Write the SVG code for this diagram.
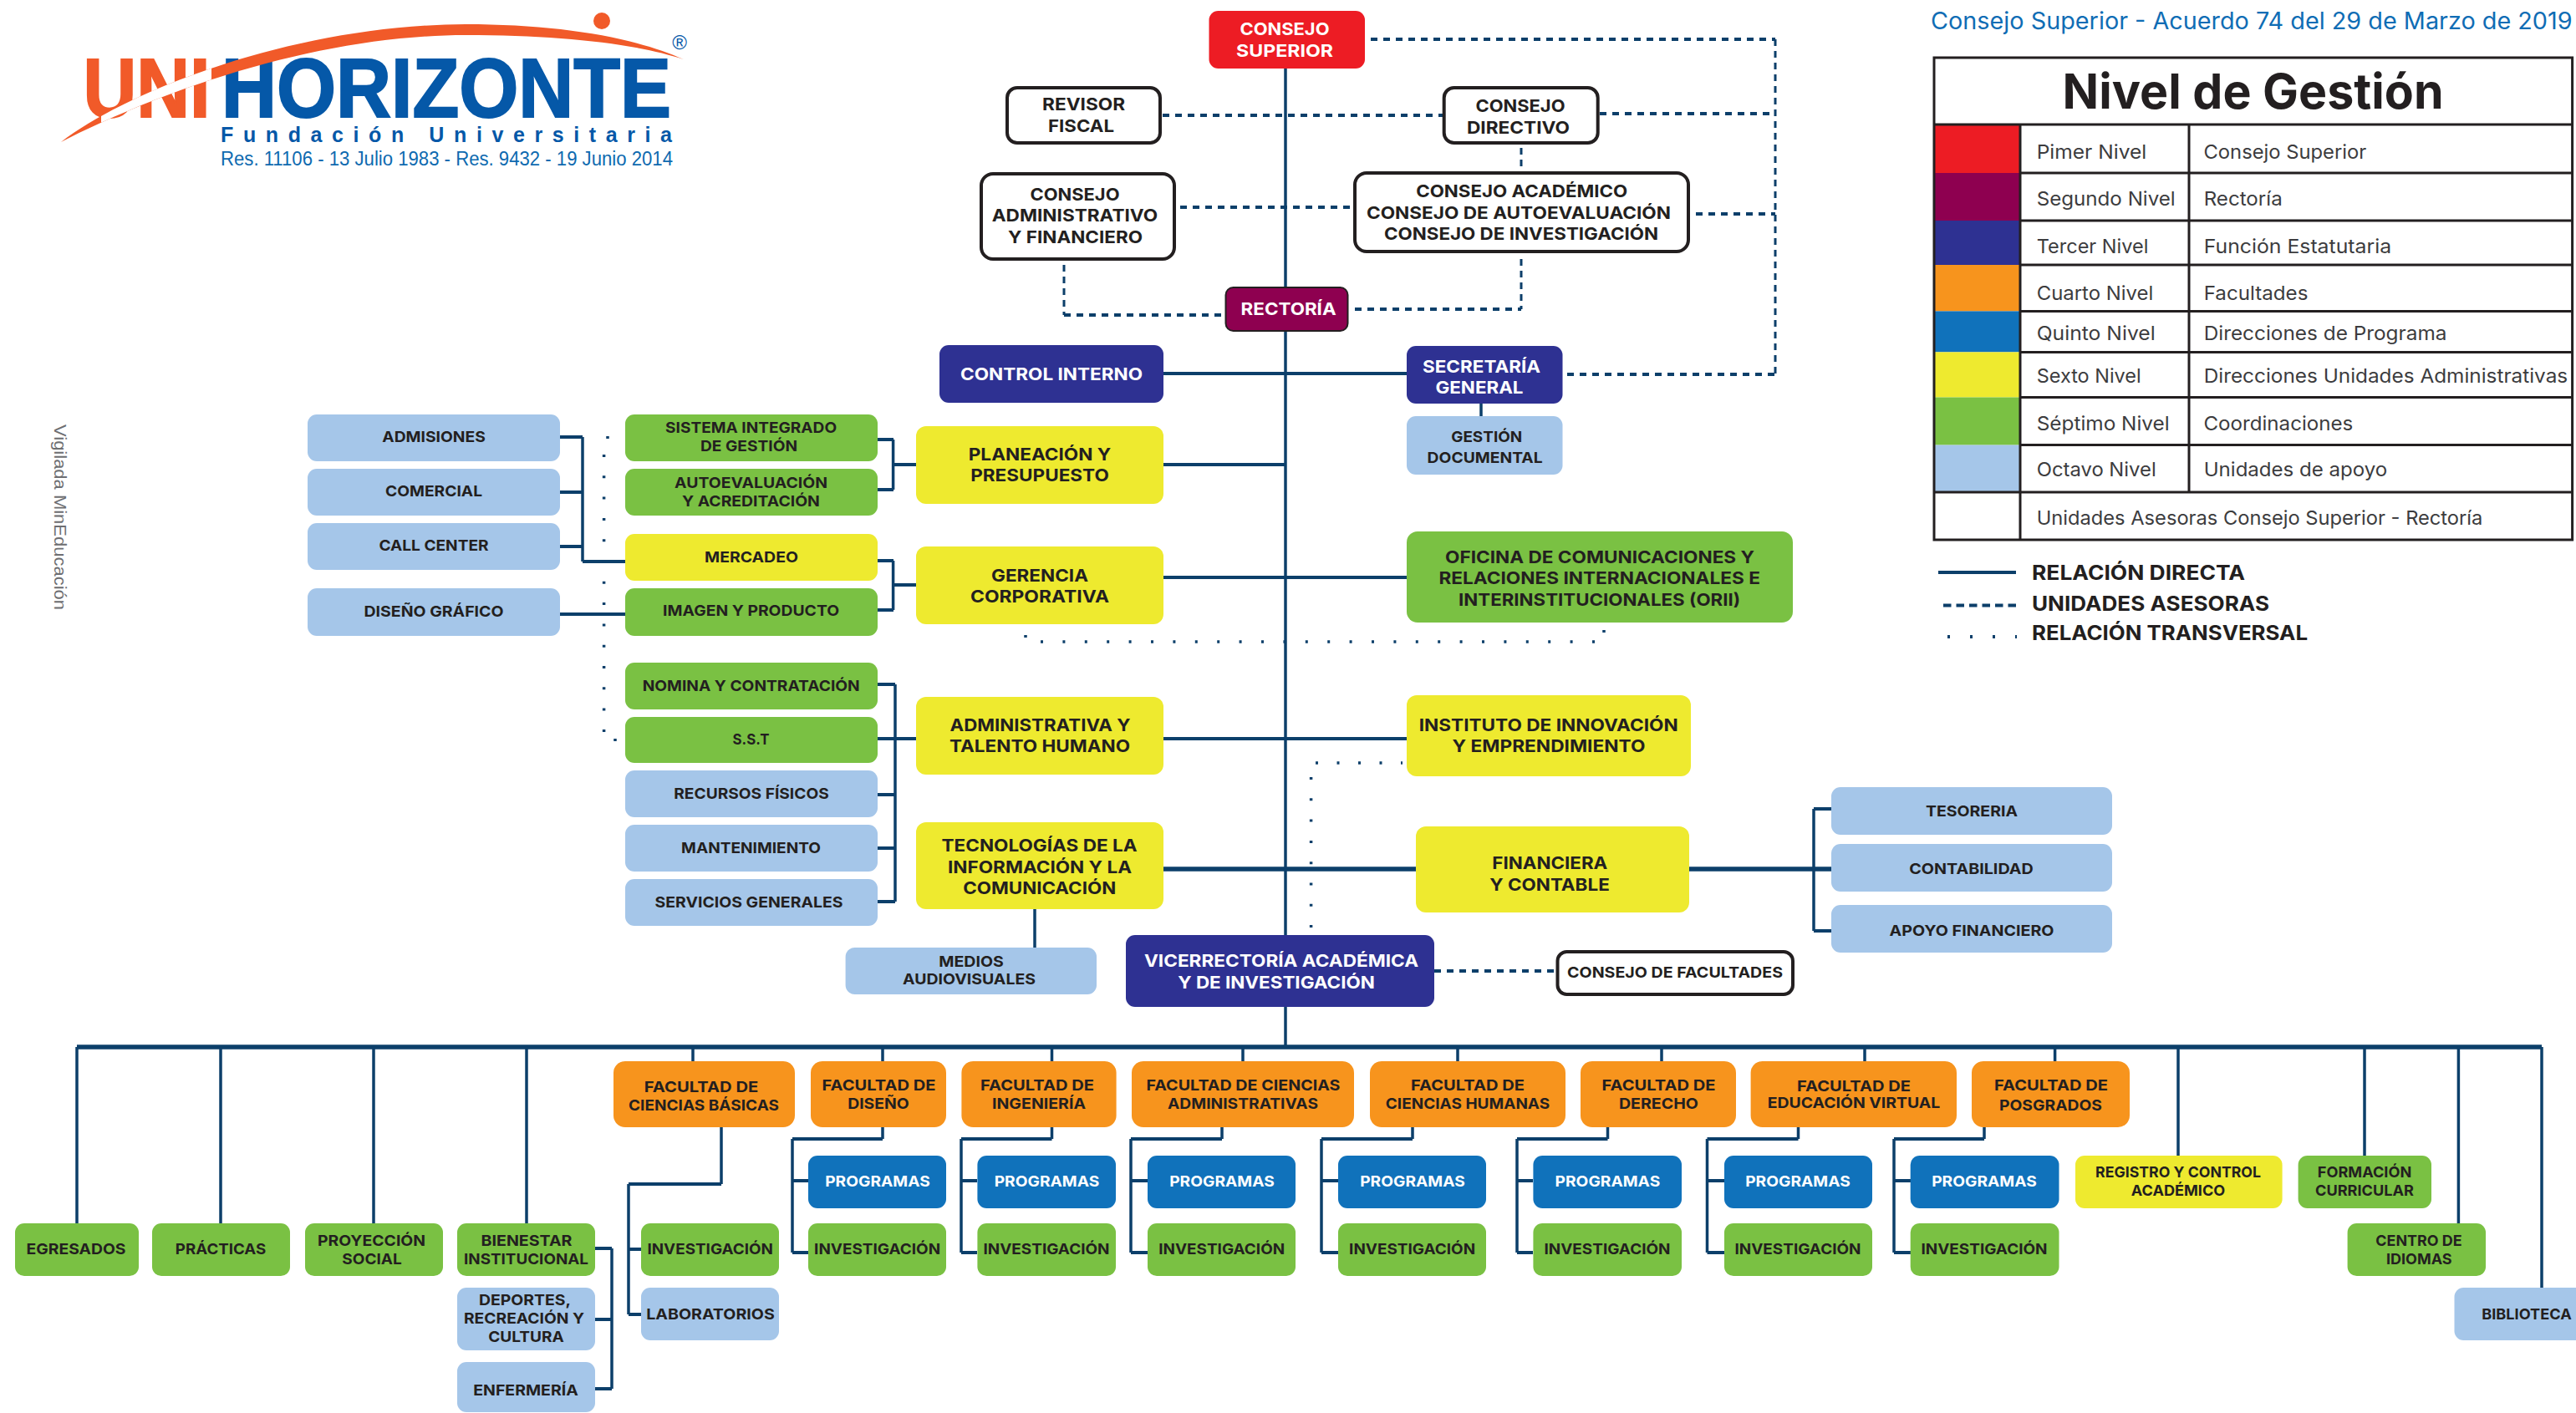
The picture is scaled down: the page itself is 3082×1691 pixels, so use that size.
<svg xmlns="http://www.w3.org/2000/svg" width="3082" height="1691" viewBox="0 0 3082 1691">
<style>
text{font-family:"Inter","Open Sans","Liberation Sans",sans-serif;text-anchor:middle;fill:#231f20}
.m{font-size:20.5px;font-weight:700}
.s{font-size:18px;font-weight:700}
.w{fill:#fff}
.n rect{stroke:none}
.red{fill:#ed1c24}.mar{fill:#8e0050}.ind{fill:#2e3192}.ora{fill:#f7941d}.blu{fill:#1072bb}.yel{fill:#eeea2f}.gre{fill:#7ac143}.lig{fill:#a5c6e9}
.wb{fill:#fff;stroke:#231f20!important;stroke-width:4}
.mb{stroke:#231f20!important;stroke-width:2}
.c{fill:none;stroke:#0c3f6a;stroke-width:4}
.t{stroke-width:3.5}
.b{stroke-width:5.5}
.d{stroke-dasharray:8 7}
.v{stroke-dasharray:8 6;stroke-width:3}
.p{stroke-dasharray:3 23.4;stroke-width:3.5}
.pv{stroke-dasharray:3 22.3;stroke-width:3.5}
.lg text{text-anchor:start;font-size:23px;font-weight:400;fill:#3c3c3e}
.lg .h{text-anchor:start;font-size:24.5px;font-weight:700;fill:#231f20}
.lg .ti{text-anchor:middle;font-size:58px;font-weight:700;fill:#231f20}
.grid{fill:none;stroke:#231f20;stroke-width:3}
.logo text{font-family:"Liberation Sans",sans-serif}
</style>
<defs><clipPath id="cutUni"><rect x="121" y="60" width="132" height="90"/></clipPath></defs>
<rect width="3082" height="1691" fill="#fff"/>

<g id="logo" class="logo">
<text x="175.500" y="140" style="font-size:100px;font-weight:700;fill:#f15a29;stroke:#f15a29;stroke-width:2" textLength="152" lengthAdjust="spacingAndGlyphs">UNI</text>
<text x="534" y="140" style="font-size:100px;font-weight:700;fill:#0558a8;stroke:#0558a8;stroke-width:2" textLength="538" lengthAdjust="spacingAndGlyphs">HORIZONTE</text>
<path d="M73 170C150 110 350 30 557 29C670 29 760 45 818 71C760 52 670 42 557 42C400 42 220 95 73 170Z" fill="#f15a29"/>
<path d="M73 170C150 110 350 30 557 29C670 29 760 45 818 71C760 52 670 42 557 42C400 42 220 95 73 170Z" fill="#fff" clip-path="url(#cutUni)"/>
<ellipse cx="720" cy="25" rx="10" ry="10" fill="#f15a29"/>
<text x="813" y="59" style="font-size:24px;fill:#0558a8">®</text>
<text x="534" y="170" style="font-size:25px;font-weight:700;fill:#0558a8" textLength="540" lengthAdjust="spacing">Fundación Universitaria</text>
<text x="534.500" y="198" style="font-size:23px;fill:#0e6ab0" textLength="541" lengthAdjust="spacingAndGlyphs">Res. 11106 - 13 Julio 1983 - Res. 9432 - 19 Junio 2014</text>
</g>

<g id="vigilada" class="logo">
<text transform="translate(65 508) rotate(90)" style="font-size:21px;fill:#6d6e71;text-anchor:start" textLength="222" lengthAdjust="spacingAndGlyphs">Vigilada MinEducación</text>
</g>

<g id="connectors">
<path class="c t" d="M1538 82V1253"/>
<path class="c b" d="M92 1253H3041"/>
<path class="c d" d="M1640 47H2124"/>
<path class="c v" d="M2124 47V448"/>
<path class="c d" d="M1875 448H2124"/>
<path class="c d" d="M1391 138H1726"/>
<path class="c d" d="M1914 136H2124"/>
<path class="c v" d="M1820 177V205"/>
<path class="c d" d="M1412 248H1619"/>
<path class="c d" d="M2029 256H2124"/>
<path class="c v" d="M1273 317V377"/>
<path class="c d" d="M1273 377H1465"/>
<path class="c v" d="M1820 310V370"/>
<path class="c d" d="M1621 370H1820"/>
<path class="c d" d="M1716 1162H1861"/>
<path class="c" d="M1392 447H1683"/>
<path class="c t" d="M1772 483V498"/>
<path class="c" d="M1392 556H1538"/>
<path class="c" d="M1392 691H1683"/>
<path class="c" d="M1392 884H1683"/>
<path class="c b" d="M1392 1040H1694"/>
<path class="c b" d="M2021 1040H2191"/>
<path class="c t" d="M2170 968V1114"/>
<path class="c" d="M2170 968H2191M2170 1114H2191"/>
<path class="c t" d="M1238 1088V1134"/>
<path class="c t" d="M1071 819V1079"/>
<path class="c" d="M1050 819H1071M1050 884H1096M1050 951H1071M1050 1015H1071M1050 1079H1071"/>
<path class="c t" d="M697 523V672"/>
<path class="c" d="M670 523H697M670 589H697M670 654H697M697 672H748M670 735H748"/>
<path class="c t" d="M1068.600 526V586M1068.600 671V730"/>
<path class="c" d="M1050 526H1069M1050 586H1069M1069 556H1096M1050 671H1069M1050 730H1069M1069 700H1096"/>
<path class="c t" d="M92 1253V1464M264 1253V1464M447 1253V1464M630 1253V1464"/>
<path class="c t" d="M829 1253V1270M1056 1253V1270M1258.500 1253V1270M1487 1253V1270M1744 1253V1270M1988 1253V1270M2231 1253V1270M2458.600 1253V1270"/>
<path class="c t" d="M2606 1253V1383M2829 1253V1383M2941.400 1253V1464M3041 1253V1541"/>
<path class="c t" d="M732 1494V1662"/>
<path class="c" d="M712 1494H732M712 1579H732M712 1662H732"/>
<path class="c t" d="M863 1349V1417M752 1417V1573"/>
<path class="c" d="M863 1417H752M752 1495H767M752 1573H767"/>
<path class="c t" d="M1056 1349V1363M948 1363V1499"/><path class="c" d="M1056 1363H948M948 1413H967M948 1499H967"/>
<path class="c t" d="M1258.500 1349V1363M1150 1363V1499"/><path class="c" d="M1258.500 1363H1150M1150 1413H1169M1150 1499H1169"/>
<path class="c t" d="M1462 1349V1363M1353 1363V1499"/><path class="c" d="M1462 1363H1353M1353 1413H1373M1353 1499H1373"/>
<path class="c t" d="M1690 1349V1363M1581 1363V1499"/><path class="c" d="M1690 1363H1581M1581 1413H1601M1581 1499H1601"/>
<path class="c t" d="M1923.500 1349V1363M1815 1363V1499"/><path class="c" d="M1923.500 1363H1815M1815 1413H1834M1815 1499H1834"/>
<path class="c t" d="M2151.500 1349V1363M2042.500 1363V1499"/><path class="c" d="M2151.500 1363H2042.500M2042.500 1413H2063M2042.500 1499H2063"/>
<path class="c t" d="M2374 1349V1363M2266 1363V1499"/><path class="c" d="M2374 1363H2266M2266 1413H2286M2266 1499H2286"/>
<path class="c pv" d="M722.600 544V878"/>
<path class="c pv" d="M727 522V525M736 884V888"/>
<path class="c p" d="M1245 768H1910"/>
<path class="c pv" d="M1227 760V764M1919 754V758"/>
<path class="c p" d="M1574 913H1678" style="stroke-dasharray:3 22.500"/>
<path class="c pv" d="M1568.600 930V1112"/>
</g>

<g id="consejo-superior" class="n"><rect class="red" x="1446.500" y="13" width="186.500" height="69" rx="11"/><text class="m w" x="1537" y="41.700" textLength="107" lengthAdjust="spacingAndGlyphs">CONSEJO</text><text class="m w" x="1537" y="68" textLength="116" lengthAdjust="spacingAndGlyphs">SUPERIOR</text></g>
<g id="revisor-fiscal" class="n"><rect class="wb" x="1205" y="105" width="183" height="66" rx="12"/><text class="m" x="1296.600" y="132" textLength="99" lengthAdjust="spacingAndGlyphs">REVISOR</text><text class="m" x="1293.500" y="157.700" textLength="79" lengthAdjust="spacingAndGlyphs">FISCAL</text></g>
<g id="consejo-directivo" class="n"><rect class="wb" x="1727.700" y="105" width="184" height="66" rx="12"/><text class="m" x="1819" y="134" textLength="107" lengthAdjust="spacingAndGlyphs">CONSEJO</text><text class="m" x="1816.500" y="159.700" textLength="123" lengthAdjust="spacingAndGlyphs">DIRECTIVO</text></g>
<g id="consejo-administrativo" class="n"><rect class="wb" x="1174" y="208" width="231" height="102" rx="14"/><text class="m" x="1286" y="239.700" textLength="107" lengthAdjust="spacingAndGlyphs">CONSEJO</text><text class="m" x="1286" y="265" textLength="198.500" lengthAdjust="spacingAndGlyphs">ADMINISTRATIVO</text><text class="m" x="1286.500" y="291" textLength="161" lengthAdjust="spacingAndGlyphs">Y FINANCIERO</text></g>
<g id="consejo-academico" class="n"><rect class="wb" x="1621" y="207" width="399" height="94" rx="14"/><text class="m" x="1820.700" y="236" textLength="253" lengthAdjust="spacingAndGlyphs">CONSEJO ACADÉMICO</text><text class="m" x="1817" y="261.700" textLength="364" lengthAdjust="spacingAndGlyphs">CONSEJO DE AUTOEVALUACIÓN</text><text class="m" x="1820" y="286.700" textLength="328" lengthAdjust="spacingAndGlyphs">CONSEJO DE INVESTIGACIÓN</text></g>
<g id="rectoria" class="n"><rect class="mar mb" x="1466.500" y="344" width="146" height="52" rx="9"/><text class="m w" x="1541.600" y="377" textLength="114" lengthAdjust="spacingAndGlyphs">RECTORÍA</text></g>
<g id="control-interno" class="n"><rect class="ind" x="1124" y="413" width="268" height="69" rx="11"/><text class="m w" x="1258" y="455" textLength="218" lengthAdjust="spacingAndGlyphs">CONTROL INTERNO</text></g>
<g id="secretaria-general" class="n"><rect class="ind" x="1683" y="414" width="186.500" height="69" rx="11"/><text class="m w" x="1772.500" y="446" textLength="141" lengthAdjust="spacingAndGlyphs">SECRETARÍA</text><text class="m w" x="1770" y="470.700" textLength="105" lengthAdjust="spacingAndGlyphs">GENERAL</text></g>
<g id="gestion-documental" class="n"><rect class="lig" x="1683" y="498" width="186.500" height="70" rx="11"/><text class="s" x="1778.700" y="529" textLength="85" lengthAdjust="spacingAndGlyphs">GESTIÓN</text><text class="s" x="1776.600" y="554" textLength="138" lengthAdjust="spacingAndGlyphs">DOCUMENTAL</text></g>

<g id="admisiones" class="n"><rect class="lig" x="368" y="496" width="302" height="56" rx="11"/><text class="s" x="519" y="529.300" textLength="123.500" lengthAdjust="spacingAndGlyphs">ADMISIONES</text></g>
<g id="comercial" class="n"><rect class="lig" x="368" y="561" width="302" height="56" rx="11"/><text class="s" x="519" y="594.300" textLength="116" lengthAdjust="spacingAndGlyphs">COMERCIAL</text></g>
<g id="call-center" class="n"><rect class="lig" x="368" y="626" width="302" height="56" rx="11"/><text class="s" x="519" y="659" textLength="131" lengthAdjust="spacingAndGlyphs">CALL CENTER</text></g>
<g id="diseno-grafico" class="n"><rect class="lig" x="368" y="704" width="302" height="57" rx="11"/><text class="s" x="519" y="738" textLength="167" lengthAdjust="spacingAndGlyphs">DISEÑO GRÁFICO</text></g>
<g id="sistema-integrado" class="n"><rect class="gre" x="748" y="496" width="302" height="56" rx="11"/><text class="s" x="898.600" y="518.300" textLength="205" lengthAdjust="spacingAndGlyphs">SISTEMA INTEGRADO</text><text class="s" x="896" y="540" textLength="116" lengthAdjust="spacingAndGlyphs">DE GESTIÓN</text></g>
<g id="autoevaluacion" class="n"><rect class="gre" x="748" y="561" width="302" height="56" rx="11"/><text class="s" x="898.600" y="584.300" textLength="183" lengthAdjust="spacingAndGlyphs">AUTOEVALUACIÓN</text><text class="s" x="898.400" y="606" textLength="165" lengthAdjust="spacingAndGlyphs">Y ACREDITACIÓN</text></g>
<g id="mercadeo" class="n"><rect class="yel" x="748" y="639" width="302" height="56" rx="11"/><text class="s" x="899" y="673" textLength="112" lengthAdjust="spacingAndGlyphs">MERCADEO</text></g>
<g id="imagen-producto" class="n"><rect class="gre" x="748" y="704" width="302" height="57" rx="11"/><text class="s" x="898.600" y="737" textLength="211" lengthAdjust="spacingAndGlyphs">IMAGEN Y PRODUCTO</text></g>
<g id="nomina" class="n"><rect class="gre" x="748" y="793" width="302" height="56" rx="11"/><text class="s" x="898.700" y="827.300" textLength="260" lengthAdjust="spacingAndGlyphs">NOMINA Y CONTRATACIÓN</text></g>
<g id="sst" class="n"><rect class="gre" x="748" y="858" width="302" height="55" rx="11"/><text class="s" x="898.600" y="891" textLength="44" lengthAdjust="spacingAndGlyphs">S.S.T</text></g>
<g id="recursos-fisicos" class="n"><rect class="lig" x="748" y="922" width="302" height="56" rx="11"/><text class="s" x="899" y="956" textLength="185.500" lengthAdjust="spacingAndGlyphs">RECURSOS FÍSICOS</text></g>
<g id="mantenimiento" class="n"><rect class="lig" x="748" y="987" width="302" height="56" rx="11"/><text class="s" x="898.600" y="1021" textLength="167" lengthAdjust="spacingAndGlyphs">MANTENIMIENTO</text></g>
<g id="servicios-generales" class="n"><rect class="lig" x="748" y="1052" width="302" height="56" rx="11"/><text class="s" x="896" y="1086" textLength="225" lengthAdjust="spacingAndGlyphs">SERVICIOS GENERALES</text></g>

<g id="planeacion" class="n"><rect class="yel" x="1096" y="510" width="296" height="93" rx="12"/><text class="m" x="1244" y="551" textLength="170.500" lengthAdjust="spacingAndGlyphs">PLANEACIÓN Y</text><text class="m" x="1244" y="576" textLength="165.600" lengthAdjust="spacingAndGlyphs">PRESUPUESTO</text></g>
<g id="gerencia" class="n"><rect class="yel" x="1096" y="654" width="296" height="93" rx="12"/><text class="m" x="1244" y="695.700" textLength="116" lengthAdjust="spacingAndGlyphs">GERENCIA</text><text class="m" x="1244" y="720.700" textLength="166" lengthAdjust="spacingAndGlyphs">CORPORATIVA</text></g>
<g id="administrativa" class="n"><rect class="yel" x="1096" y="834" width="296" height="93" rx="12"/><text class="m" x="1244.500" y="875" textLength="216" lengthAdjust="spacingAndGlyphs">ADMINISTRATIVA Y</text><text class="m" x="1244" y="900" textLength="216" lengthAdjust="spacingAndGlyphs">TALENTO HUMANO</text></g>
<g id="tecnologias" class="n"><rect class="yel" x="1096" y="984" width="296" height="104" rx="12"/><text class="m" x="1243.500" y="1019" textLength="234" lengthAdjust="spacingAndGlyphs">TECNOLOGÍAS DE LA</text><text class="m" x="1244" y="1045" textLength="220" lengthAdjust="spacingAndGlyphs">INFORMACIÓN Y LA</text><text class="m" x="1243.700" y="1070" textLength="183" lengthAdjust="spacingAndGlyphs">COMUNICACIÓN</text></g>
<g id="medios" class="n"><rect class="lig" x="1011.600" y="1134" width="300.400" height="56" rx="11"/><text class="s" x="1162" y="1157" textLength="77.500" lengthAdjust="spacingAndGlyphs">MEDIOS</text><text class="s" x="1159.500" y="1178.300" textLength="159" lengthAdjust="spacingAndGlyphs">AUDIOVISUALES</text></g>
<g id="oficina" class="n"><rect class="gre" x="1683" y="636" width="462" height="109" rx="13"/><text class="m" x="1914" y="673.700" textLength="370" lengthAdjust="spacingAndGlyphs">OFICINA DE COMUNICACIONES Y</text><text class="m" x="1913.700" y="698.700" textLength="384.500" lengthAdjust="spacingAndGlyphs">RELACIONES INTERNACIONALES E</text><text class="m" x="1913.600" y="725" textLength="337" lengthAdjust="spacingAndGlyphs">INTERINSTITUCIONALES (ORII)</text></g>
<g id="instituto" class="n"><rect class="yel" x="1683" y="832" width="340" height="97" rx="12"/><text class="m" x="1852.700" y="875" textLength="310" lengthAdjust="spacingAndGlyphs">INSTITUTO DE INNOVACIÓN</text><text class="m" x="1853" y="900" textLength="231" lengthAdjust="spacingAndGlyphs">Y EMPRENDIMIENTO</text></g>
<g id="financiera" class="n"><rect class="yel" x="1694" y="989" width="327" height="103" rx="12"/><text class="m" x="1854.300" y="1040" textLength="138" lengthAdjust="spacingAndGlyphs">FINANCIERA</text><text class="m" x="1854" y="1065.700" textLength="143.500" lengthAdjust="spacingAndGlyphs">Y CONTABLE</text></g>
<g id="tesoreria" class="n"><rect class="lig" x="2191" y="942" width="336" height="57" rx="11"/><text class="s" x="2359" y="977" textLength="110" lengthAdjust="spacingAndGlyphs">TESORERIA</text></g>
<g id="contabilidad" class="n"><rect class="lig" x="2191" y="1010" width="336" height="57" rx="11"/><text class="s" x="2358.500" y="1045.700" textLength="148.600" lengthAdjust="spacingAndGlyphs">CONTABILIDAD</text></g>
<g id="apoyo-financiero" class="n"><rect class="lig" x="2191" y="1083" width="336" height="57" rx="11"/><text class="s" x="2359" y="1120" textLength="197" lengthAdjust="spacingAndGlyphs">APOYO FINANCIERO</text></g>
<g id="vicerrectoria" class="n"><rect class="ind" x="1347" y="1119" width="369" height="86" rx="11"/><text class="m w" x="1533" y="1157" textLength="328" lengthAdjust="spacingAndGlyphs">VICERRECTORÍA ACADÉMICA</text><text class="m w" x="1527" y="1182.700" textLength="235.600" lengthAdjust="spacingAndGlyphs">Y DE INVESTIGACIÓN</text></g>
<g id="consejo-facultades" class="n"><rect class="wb" x="1863.500" y="1139" width="281.500" height="51" rx="11"/><text class="s" x="2004" y="1169.700" textLength="258" lengthAdjust="spacingAndGlyphs">CONSEJO DE FACULTADES</text></g>

<g id="egresados" class="n"><rect class="gre" x="18" y="1464" width="148" height="63" rx="11"/><text class="s" x="91" y="1501" textLength="119" lengthAdjust="spacingAndGlyphs">EGRESADOS</text></g>
<g id="practicas" class="n"><rect class="gre" x="182" y="1464" width="165" height="63" rx="11"/><text class="s" x="264" y="1501" textLength="108.400" lengthAdjust="spacingAndGlyphs">PRÁCTICAS</text></g>
<g id="proyeccion-social" class="n"><rect class="gre" x="365" y="1464" width="165" height="63" rx="11"/><text class="s" x="444.500" y="1490.700" textLength="129" lengthAdjust="spacingAndGlyphs">PROYECCIÓN</text><text class="s" x="445" y="1512.700" textLength="71.400" lengthAdjust="spacingAndGlyphs">SOCIAL</text></g>
<g id="bienestar" class="n"><rect class="gre" x="547" y="1464" width="165" height="63" rx="11"/><text class="s" x="630" y="1490.700" textLength="109" lengthAdjust="spacingAndGlyphs">BIENESTAR</text><text class="s" x="629.500" y="1512.700" textLength="149" lengthAdjust="spacingAndGlyphs">INSTITUCIONAL</text></g>
<g id="deportes" class="n"><rect class="lig" x="547" y="1541" width="165" height="75" rx="11"/><text class="s" x="628" y="1562.300" textLength="110" lengthAdjust="spacingAndGlyphs">DEPORTES,</text><text class="s" x="627" y="1584" textLength="144" lengthAdjust="spacingAndGlyphs">RECREACIÓN Y</text><text class="s" x="629.500" y="1605.700" textLength="90.600" lengthAdjust="spacingAndGlyphs">CULTURA</text></g>
<g id="enfermeria" class="n"><rect class="lig" x="547" y="1630" width="165" height="60" rx="11"/><text class="s" x="629" y="1670" textLength="125.600" lengthAdjust="spacingAndGlyphs">ENFERMERÍA</text></g>

<g id="fac-basicas" class="n"><rect class="ora" x="734" y="1270" width="217" height="79" rx="14"/><text class="s" x="839" y="1307.300" textLength="136.500" lengthAdjust="spacingAndGlyphs">FACULTAD DE</text><text class="s" x="842" y="1329" textLength="180" lengthAdjust="spacingAndGlyphs">CIENCIAS BÁSICAS</text></g>
<g id="fac-diseno" class="n"><rect class="ora" x="970" y="1270" width="162" height="79" rx="14"/><text class="s" x="1051.500" y="1305.300" textLength="136" lengthAdjust="spacingAndGlyphs">FACULTAD DE</text><text class="s" x="1051" y="1326.700" textLength="73.600" lengthAdjust="spacingAndGlyphs">DISEÑO</text></g>
<g id="fac-ingenieria" class="n"><rect class="ora" x="1150.400" y="1270" width="185.200" height="79" rx="14"/><text class="s" x="1241" y="1305.300" textLength="136" lengthAdjust="spacingAndGlyphs">FACULTAD DE</text><text class="s" x="1243" y="1326.700" textLength="112" lengthAdjust="spacingAndGlyphs">INGENIERÍA</text></g>
<g id="fac-administrativas" class="n"><rect class="ora" x="1354" y="1270" width="266" height="79" rx="14"/><text class="s" x="1487.500" y="1305.300" textLength="232" lengthAdjust="spacingAndGlyphs">FACULTAD DE CIENCIAS</text><text class="s" x="1487" y="1326.700" textLength="180" lengthAdjust="spacingAndGlyphs">ADMINISTRATIVAS</text></g>
<g id="fac-humanas" class="n"><rect class="ora" x="1639" y="1270" width="234" height="79" rx="14"/><text class="s" x="1756" y="1305.300" textLength="136" lengthAdjust="spacingAndGlyphs">FACULTAD DE</text><text class="s" x="1756" y="1326.700" textLength="196.400" lengthAdjust="spacingAndGlyphs">CIENCIAS HUMANAS</text></g>
<g id="fac-derecho" class="n"><rect class="ora" x="1891" y="1270" width="186" height="79" rx="14"/><text class="s" x="1984.500" y="1305.300" textLength="136" lengthAdjust="spacingAndGlyphs">FACULTAD DE</text><text class="s" x="1984.400" y="1326.700" textLength="95" lengthAdjust="spacingAndGlyphs">DERECHO</text></g>
<g id="fac-virtual" class="n"><rect class="ora" x="2094.600" y="1270" width="246.400" height="79" rx="14"/><text class="s" x="2218" y="1306" textLength="136" lengthAdjust="spacingAndGlyphs">FACULTAD DE</text><text class="s" x="2218" y="1326" textLength="206.600" lengthAdjust="spacingAndGlyphs">EDUCACIÓN VIRTUAL</text></g>
<g id="fac-posgrados" class="n"><rect class="ora" x="2359" y="1270" width="189" height="79" rx="14"/><text class="s" x="2454" y="1305.300" textLength="136" lengthAdjust="spacingAndGlyphs">FACULTAD DE</text><text class="s" x="2453.500" y="1329" textLength="123" lengthAdjust="spacingAndGlyphs">POSGRADOS</text></g>

<g id="prog-diseno" class="n"><rect class="blu" x="967" y="1383" width="165" height="63" rx="11"/><text class="s w" x="1050" y="1420" textLength="125.600" lengthAdjust="spacingAndGlyphs">PROGRAMAS</text></g>
<g id="prog-ingenieria" class="n"><rect class="blu" x="1169.400" y="1383" width="165.600" height="63" rx="11"/><text class="s w" x="1252.500" y="1420" textLength="125.600" lengthAdjust="spacingAndGlyphs">PROGRAMAS</text></g>
<g id="prog-administrativas" class="n"><rect class="blu" x="1373" y="1383" width="177" height="63" rx="11"/><text class="s w" x="1462" y="1420" textLength="125.600" lengthAdjust="spacingAndGlyphs">PROGRAMAS</text></g>
<g id="prog-humanas" class="n"><rect class="blu" x="1601" y="1383" width="177" height="63" rx="11"/><text class="s w" x="1690" y="1420" textLength="125.600" lengthAdjust="spacingAndGlyphs">PROGRAMAS</text></g>
<g id="prog-derecho" class="n"><rect class="blu" x="1834.400" y="1383" width="177.600" height="63" rx="11"/><text class="s w" x="1923.400" y="1420" textLength="125.600" lengthAdjust="spacingAndGlyphs">PROGRAMAS</text></g>
<g id="prog-virtual" class="n"><rect class="blu" x="2063" y="1383" width="177" height="63" rx="11"/><text class="s w" x="2151" y="1420" textLength="125.600" lengthAdjust="spacingAndGlyphs">PROGRAMAS</text></g>
<g id="prog-posgrados" class="n"><rect class="blu" x="2285.700" y="1383" width="177.800" height="63" rx="11"/><text class="s w" x="2374" y="1420" textLength="125.600" lengthAdjust="spacingAndGlyphs">PROGRAMAS</text></g>

<g id="inv-basicas" class="n"><rect class="gre" x="767" y="1464" width="165" height="63" rx="11"/><text class="s" x="849.700" y="1501" textLength="150.500" lengthAdjust="spacingAndGlyphs">INVESTIGACIÓN</text></g>
<g id="laboratorios" class="n"><rect class="lig" x="767" y="1541" width="165" height="63" rx="11"/><text class="s" x="850" y="1579" textLength="153.700" lengthAdjust="spacingAndGlyphs">LABORATORIOS</text></g>
<g id="inv-diseno" class="n"><rect class="gre" x="967" y="1464" width="165" height="63" rx="11"/><text class="s" x="1049.600" y="1501" textLength="151" lengthAdjust="spacingAndGlyphs">INVESTIGACIÓN</text></g>
<g id="inv-ingenieria" class="n"><rect class="gre" x="1169.400" y="1464" width="165.600" height="63" rx="11"/><text class="s" x="1252" y="1501" textLength="151" lengthAdjust="spacingAndGlyphs">INVESTIGACIÓN</text></g>
<g id="inv-administrativas" class="n"><rect class="gre" x="1373" y="1464" width="177" height="63" rx="11"/><text class="s" x="1461.700" y="1501" textLength="151" lengthAdjust="spacingAndGlyphs">INVESTIGACIÓN</text></g>
<g id="inv-humanas" class="n"><rect class="gre" x="1601" y="1464" width="177" height="63" rx="11"/><text class="s" x="1689.600" y="1501" textLength="151" lengthAdjust="spacingAndGlyphs">INVESTIGACIÓN</text></g>
<g id="inv-derecho" class="n"><rect class="gre" x="1834.400" y="1464" width="177.600" height="63" rx="11"/><text class="s" x="1923" y="1501" textLength="151" lengthAdjust="spacingAndGlyphs">INVESTIGACIÓN</text></g>
<g id="inv-virtual" class="n"><rect class="gre" x="2063" y="1464" width="177" height="63" rx="11"/><text class="s" x="2151" y="1501" textLength="151" lengthAdjust="spacingAndGlyphs">INVESTIGACIÓN</text></g>
<g id="inv-posgrados" class="n"><rect class="gre" x="2285.700" y="1464" width="177.800" height="63" rx="11"/><text class="s" x="2374" y="1501" textLength="151" lengthAdjust="spacingAndGlyphs">INVESTIGACIÓN</text></g>

<g id="registro" class="n"><rect class="yel" x="2483" y="1383" width="247.600" height="63" rx="11"/><text class="s" x="2606" y="1409.300" textLength="198" lengthAdjust="spacingAndGlyphs">REGISTRO Y CONTROL</text><text class="s" x="2606" y="1431" textLength="112.400" lengthAdjust="spacingAndGlyphs">ACADÉMICO</text></g>
<g id="formacion" class="n"><rect class="gre" x="2749.600" y="1383" width="159.400" height="63" rx="11"/><text class="s" x="2829" y="1409.300" textLength="112.400" lengthAdjust="spacingAndGlyphs">FORMACIÓN</text><text class="s" x="2829" y="1431" textLength="118" lengthAdjust="spacingAndGlyphs">CURRICULAR</text></g>
<g id="idiomas" class="n"><rect class="gre" x="2808.600" y="1464" width="165.400" height="63" rx="11"/><text class="s" x="2894" y="1490.700" textLength="103.300" lengthAdjust="spacingAndGlyphs">CENTRO DE</text><text class="s" x="2894.300" y="1512.700" textLength="78.700" lengthAdjust="spacingAndGlyphs">IDIOMAS</text></g>
<g id="biblioteca" class="n"><rect class="lig" x="2936.500" y="1541" width="160" height="63" rx="11"/><text class="s" x="3023" y="1579" textLength="107.500" lengthAdjust="spacingAndGlyphs">BIBLIOTECA</text></g>

<g id="legend" class="lg">
<text x="2310" y="34.700" style="font-size:28px;fill:#0f6db5" textLength="767.600" lengthAdjust="spacingAndGlyphs">Consejo Superior - Acuerdo 74 del 29 de Marzo de 2019</text>
<rect class="red" x="2314" y="149" width="103" height="58"/>
<rect class="mar" x="2314" y="207" width="103" height="57"/>
<rect class="ind" x="2314" y="264" width="103" height="53"/>
<rect class="ora" x="2314" y="317" width="103" height="55.400"/>
<rect class="blu" x="2314" y="372.400" width="103" height="49"/>
<rect class="yel" x="2314" y="421.400" width="103" height="54.100"/>
<rect class="gre" x="2314" y="475.500" width="103" height="57.100"/>
<rect class="lig" x="2314" y="532.600" width="103" height="56.400"/>
<rect class="grid" x="2314" y="69" width="763.600" height="577"/>
<path class="grid" d="M2314 149H3077.600M2417 207H3077.600M2417 264H3077.600M2417 317H3077.600M2417 372.400H3077.600M2417 421.400H3077.600M2417 475.500H3077.600M2417 532.600H3077.600M2314 589H3077.600M2417 149V646M2619 149V589"/>
<text class="ti" x="2695.600" y="130" textLength="456" lengthAdjust="spacingAndGlyphs">Nivel de Gestión</text>
<text x="2436.700" y="190" textLength="131.600" lengthAdjust="spacingAndGlyphs">Pimer Nivel</text>
<text x="2436.700" y="246" textLength="166" lengthAdjust="spacingAndGlyphs">Segundo Nivel</text>
<text x="2436.700" y="302.500" textLength="133.700" lengthAdjust="spacingAndGlyphs">Tercer Nivel</text>
<text x="2436.700" y="358.700" textLength="139.500" lengthAdjust="spacingAndGlyphs">Cuarto Nivel</text>
<text x="2436.700" y="407" textLength="142" lengthAdjust="spacingAndGlyphs">Quinto Nivel</text>
<text x="2436.700" y="457.600" textLength="125" lengthAdjust="spacingAndGlyphs">Sexto Nivel</text>
<text x="2436.700" y="515" textLength="159" lengthAdjust="spacingAndGlyphs">Séptimo Nivel</text>
<text x="2436.700" y="570.400" textLength="143" lengthAdjust="spacingAndGlyphs">Octavo Nivel</text>
<text x="2636.500" y="190" textLength="194.700" lengthAdjust="spacingAndGlyphs">Consejo Superior</text>
<text x="2636.700" y="246" textLength="94" lengthAdjust="spacingAndGlyphs">Rectoría</text>
<text x="2636.700" y="302.500" textLength="224.400" lengthAdjust="spacingAndGlyphs">Función Estatutaria</text>
<text x="2636.700" y="358.700" textLength="124.700" lengthAdjust="spacingAndGlyphs">Facultades</text>
<text x="2636.700" y="407" textLength="290.700" lengthAdjust="spacingAndGlyphs">Direcciones de Programa</text>
<text x="2636.700" y="457.600" textLength="435.500" lengthAdjust="spacingAndGlyphs">Direcciones Unidades Administrativas</text>
<text x="2636.500" y="515" textLength="178.800" lengthAdjust="spacingAndGlyphs">Coordinaciones</text>
<text x="2636.700" y="570.400" textLength="219.600" lengthAdjust="spacingAndGlyphs">Unidades de apoyo</text>
<text x="2436.700" y="627.500" textLength="533.700" lengthAdjust="spacingAndGlyphs">Unidades Asesoras Consejo Superior - Rectoría</text>
<path class="c" d="M2319 685H2412"/>
<path class="c" d="M2325 724.500H2412" style="stroke-dasharray:9.500 6"/>
<path class="c" d="M2330 762H2413" style="stroke-dasharray:3 24"/>
<text class="h" x="2431" y="694" textLength="255" lengthAdjust="spacingAndGlyphs">RELACIÓN DIRECTA</text>
<text class="h" x="2431" y="730.600" textLength="284" lengthAdjust="spacingAndGlyphs">UNIDADES ASESORAS</text>
<text class="h" x="2431" y="766" textLength="330" lengthAdjust="spacingAndGlyphs">RELACIÓN TRANSVERSAL</text>
</g>
</svg>
